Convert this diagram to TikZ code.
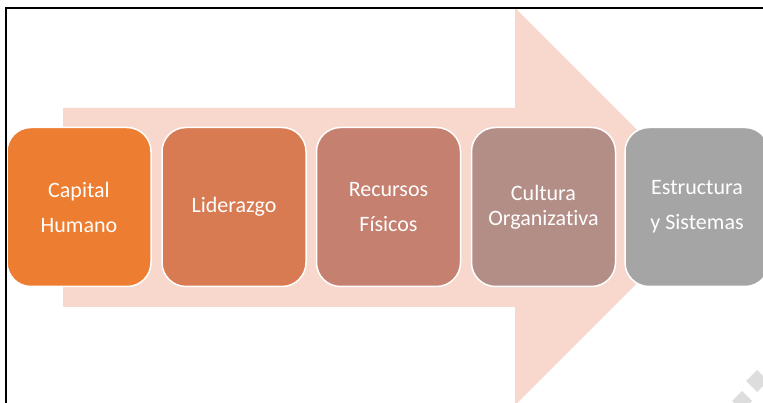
\documentclass[tikz,border=0pt]{standalone}
\usepackage{fontspec}
\setmainfont[Ligatures=CommonOff]{Carlito}
\definecolor{arrowc}{RGB}{248,215,204}
\definecolor{cA}{RGB}{237,125,49}
\definecolor{cB}{RGB}{216,123,82}
\definecolor{cC}{RGB}{197,128,111}
\definecolor{cD}{RGB}{179,142,135}
\definecolor{cE}{RGB}{165,165,165}
\definecolor{wm}{RGB}{221,221,221}
\begin{document}
\begin{tikzpicture}[x=1pt,y=-1pt,
  stage/.style={draw=white, line width=1.5pt, rounded corners=24pt,
    minimum width=144pt, minimum height=159pt, inner sep=0pt,
    text=white, align=center, font=\fontsize{22}{35}\selectfont},
  tight/.style={font=\fontsize{22}{25}\selectfont}]
\useasboundingbox (0,0) rectangle (763,403);
\clip (0,0) rectangle (763,403);
\fill[white] (0,0) rectangle (763,403);
% big arrow
\fill[arrowc] (63,108) -- (515,108) -- (515,8) -- (713.5,206.5) -- (515,405) -- (515,307) -- (63,307) -- cycle;
% watermark fragments
\fill[wm] (757,370) -- (768,381) -- (757,392) -- (746,381) -- cycle;
\fill[wm] (742,391) -- (752,401) -- (742,411) -- (732,401) -- cycle;
% stages
\node[stage, fill=cA] (n1) at (79,207) {Capital\\Humano};
\node[stage, fill=cB] (n2) at (234,207) {Liderazgo};
\node[stage, fill=cC] (n3) at (388.5,207) {Recursos\\Físicos};
\node[stage, fill=cD, tight] (n4) at (543.5,207) {Cultura\\Organizativa};
\node[stage, fill=cE] (n5) at (697,207) {Estructura\\y Sistemas};
% frame
\draw[black, line width=1.6pt] (6,410) -- (6,8) -- (770,8);
\end{tikzpicture}
\end{document}
